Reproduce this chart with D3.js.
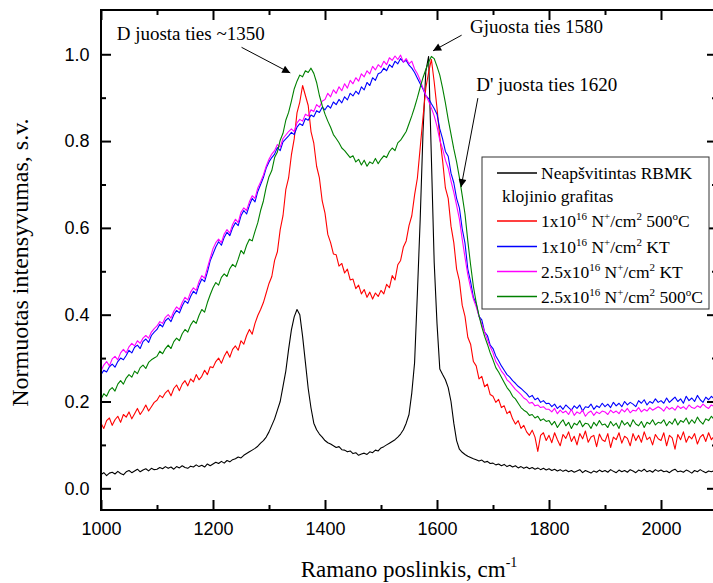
<!DOCTYPE html>
<html>
<head>
  <meta charset="utf-8">
  <title>Ramano spektrai</title>
  <script src="https://d3js.org/d3.v7.min.js"></script>
  <style>
    body { margin: 0; background: #fff; }
    .axis text { font-family: "Liberation Sans", Arial, sans-serif; font-size: 18px; fill: #000; }
    .axis line { stroke: #000; stroke-width: 2px; }
    .serif { font-family: "Liberation Serif", "Times New Roman", serif; fill: #000; white-space: pre; }
  </style>
</head>
<body>
<script>
  // Raman shift grid, cm^-1
  var shift = d3.range(1000, 2101, 5);

  var unirradiated = [
    .032, .036, .029, .035, .037, .033, .039, .034, .031, .038, .041, .036, .040, .044, .038, .042, .045, .040, .046, .043,
    .044, .048, .045, .050, .046, .049, .044, .050, .047, .052, .048, .046, .051, .049, .054, .050, .053, .049, .056, .052,
    .056, .060, .057, .062, .058, .064, .061, .066, .068, .072, .070, .076, .080, .084, .088, .092, .097, .104, .110, .118,
    .130, .145, .160, .180, .200, .235, .270, .320, .365, .395, .412, .400, .350, .290, .230, .185, .150, .135, .125, .118,
    .110, .105, .102, .098, .094, .096, .089, .088, .084, .086, .080, .082, .076, .079, .081, .078, .084, .082, .088, .086,
    .093, .096, .100, .104, .108, .112, .118, .125, .135, .150, .170, .220, .290, .450, .620, .820, .960, .995, .760, .520,
    .380, .275, .262, .250, .232, .200, .150, .110, .090, .083, .078, .074, .071, .068, .066, .063, .065, .060, .062, .057,
    .058, .054, .056, .052, .055, .050, .053, .049, .052, .047, .050, .046, .049, .045, .048, .044, .047, .043, .046, .042,
    .045, .041, .044, .040, .043, .039, .042, .038, .041, .037, .040, .043, .036, .041, .038, .035, .040, .037, .042, .038,
    .041, .037, .043, .039, .036, .042, .038, .041, .037, .043, .040, .036, .042, .039, .044, .038, .041, .037, .043, .039,
    .042, .038, .040, .036, .041, .044, .038, .040, .037, .042, .039, .035, .041, .038, .043, .039, .036, .040, .038, .041,
    .039
  ];

  var dose1hot = [
    .150, .138, .156, .162, .145, .158, .166, .152, .170, .164, .176, .160, .172, .184, .170, .180, .192, .178, .188, .198,
    .203, .214, .209, .220, .226, .213, .230, .238, .225, .240, .248, .236, .252, .245, .262, .250, .258, .272, .262, .280,
    .278, .292, .300, .288, .304, .316, .302, .320, .328, .318, .340, .332, .352, .366, .355, .380, .398, .412, .428, .450,
    .472, .488, .525, .545, .596, .628, .688, .715, .768, .805, .865, .890, .928, .905, .882, .822, .795, .742, .715, .662,
    .634, .585, .566, .540, .538, .512, .518, .496, .505, .480, .482, .460, .468, .448, .458, .440, .452, .436, .450, .442,
    .456, .448, .470, .462, .490, .480, .515, .525, .556, .570, .605, .628, .676, .715, .785, .855, .922, .958, .988, .936,
    .876, .808, .755, .692, .668, .604, .566, .505, .478, .422, .396, .348, .332, .292, .282, .252, .258, .234, .240, .216,
    .212, .198, .205, .186, .190, .172, .178, .160, .148, .156, .138, .145, .130, .122, .134, .118, .085, .122, .128, .110,
    .122, .105, .128, .112, .098, .124, .115, .130, .108, .120, .100, .126, .114, .132, .106, .118, .122, .096, .125, .112,
    .108, .126, .094, .118, .112, .128, .104, .120, .115, .098, .126, .110, .122, .106, .130, .112, .118, .100, .124, .114,
    .110, .128, .098, .122, .116, .090, .124, .112, .130, .106, .120, .114, .126, .102, .118, .124, .108, .128, .112, .120,
    .116
  ];

  var dose1room = [
    .262, .272, .268, .280, .286, .279, .292, .300, .296, .306, .318, .312, .325, .330, .322, .338, .344, .336, .352, .360,
    .366, .378, .372, .386, .392, .384, .400, .410, .404, .420, .432, .426, .442, .454, .448, .468, .482, .476, .498, .524,
    .540, .556, .568, .560, .578, .590, .582, .600, .612, .605, .628, .640, .632, .652, .668, .660, .684, .700, .716, .738,
    .752, .762, .770, .785, .778, .798, .805, .812, .820, .815, .832, .840, .836, .852, .848, .860, .856, .870, .866, .878,
    .872, .882, .876, .890, .884, .896, .888, .902, .895, .910, .904, .915, .908, .925, .918, .935, .928, .946, .940, .955,
    .958, .968, .962, .976, .970, .984, .978, .990, .982, .986, .975, .968, .958, .945, .932, .920, .905, .898, .886, .875,
    .862, .828, .805, .776, .765, .726, .704, .668, .646, .598, .565, .505, .476, .440, .425, .396, .388, .360, .352, .330,
    .322, .305, .294, .282, .272, .262, .256, .248, .242, .235, .230, .224, .218, .210, .214, .204, .208, .198, .202, .195,
    .196, .188, .194, .184, .190, .182, .192, .186, .180, .190, .184, .192, .178, .188, .186, .194, .182, .190, .186, .196,
    .188, .194, .186, .198, .190, .196, .188, .200, .192, .198, .194, .188, .202, .196, .204, .192, .200, .196, .206, .198,
    .202, .196, .208, .198, .204, .210, .200, .206, .196, .212, .202, .208, .200, .214, .204, .198, .210, .204, .212, .206,
    .208
  ];

  var dose25room = [
    .270, .284, .292, .282, .298, .304, .296, .312, .320, .312, .326, .334, .328, .340, .334, .346, .352, .346, .360, .368,
    .374, .384, .380, .394, .400, .392, .408, .418, .412, .428, .440, .434, .452, .462, .456, .476, .490, .484, .508, .530,
    .552, .566, .574, .566, .586, .596, .588, .608, .620, .612, .636, .646, .640, .660, .674, .668, .692, .706, .722, .742,
    .758, .770, .778, .792, .786, .806, .814, .822, .828, .822, .842, .850, .846, .862, .858, .872, .868, .884, .878, .892,
    .896, .910, .902, .918, .910, .925, .916, .932, .922, .940, .932, .946, .938, .955, .948, .962, .955, .972, .964, .976,
    .970, .984, .976, .992, .986, .996, .988, .998, .982, .990, .978, .984, .966, .955, .940, .922, .906, .892, .876, .858,
    .834, .802, .782, .756, .738, .708, .682, .652, .620, .574, .532, .492, .462, .436, .418, .396, .378, .360, .342, .326,
    .312, .292, .282, .270, .262, .250, .244, .236, .228, .222, .216, .208, .204, .196, .198, .190, .192, .186, .188, .182,
    .182, .176, .184, .172, .180, .174, .178, .170, .182, .168, .176, .172, .180, .166, .174, .178, .168, .176, .172, .178,
    .176, .170, .180, .174, .178, .172, .182, .176, .184, .174, .180, .178, .186, .176, .182, .178, .186, .180, .184, .188,
    .184, .178, .188, .182, .186, .180, .190, .184, .188, .182, .192, .186, .184, .190, .186, .194, .188, .184, .192, .188,
    .190
  ];

  var dose25hot = [
    .205, .218, .212, .226, .232, .224, .240, .248, .240, .254, .262, .256, .270, .264, .278, .284, .276, .290, .296, .300,
    .304, .316, .310, .322, .330, .322, .338, .346, .340, .356, .366, .360, .376, .386, .380, .398, .412, .406, .428, .446,
    .462, .474, .468, .486, .494, .488, .506, .516, .510, .528, .548, .540, .560, .574, .570, .592, .612, .640, .662, .694,
    .718, .732, .762, .775, .802, .818, .848, .866, .892, .920, .938, .952, .948, .962, .958, .968, .956, .935, .905, .882,
    .862, .846, .832, .815, .806, .796, .784, .778, .770, .762, .766, .752, .758, .745, .756, .742, .752, .748, .760, .748,
    .758, .766, .762, .776, .784, .778, .796, .802, .812, .822, .840, .858, .878, .900, .924, .946, .965, .982, .995, .990,
    .972, .952, .922, .888, .850, .816, .782, .752, .716, .675, .632, .570, .515, .465, .428, .398, .372, .350, .332, .312,
    .296, .278, .268, .256, .244, .232, .224, .212, .206, .196, .186, .180, .176, .168, .170, .162, .166, .156, .160, .154,
    .156, .146, .154, .140, .150, .158, .144, .152, .138, .150, .146, .156, .142, .150, .148, .138, .152, .144, .156, .146,
    .148, .140, .154, .144, .150, .138, .156, .146, .152, .142, .158, .148, .144, .154, .140, .152, .148, .158, .146, .152,
    .150, .158, .144, .154, .148, .160, .146, .156, .152, .162, .148, .158, .150, .164, .154, .148, .160, .156, .166, .158,
    .160
  ];

  var seriesNames = [
    "Neapšvitintas RBMK",
    "1x10^{16} N^{+}/cm^{2} 500^{o}C",
    "1x10^{16} N^{+}/cm^{2} KT",
    "2.5x10^{16} N^{+}/cm^{2} KT",
    "2.5x10^{16} N^{+}/cm^{2} 500^{o}C"
  ];
  var colors = ["#000000", "#ff0000", "#0000ff", "#ff00ff", "#008000"];
  var xTicks = [1000, 1200, 1400, 1600, 1800, 2000];
  var yTicks = [0, 0.2, 0.4, 0.6, 0.8, 1.0];

  var series = [unirradiated, dose1hot, dose1room, dose25room, dose25hot];

  var width = 713, height = 583;
  var margin = { top: 10, left: 101, bottom: 73, right: -4 };
  var plotW = width - margin.left - margin.right,
      plotH = height - margin.top - margin.bottom;

  var svg = d3.select("body").append("svg")
    .attr("width", width)
    .attr("height", height);

  var x = d3.scaleLinear().domain([1000, 2100]).range([margin.left, margin.left + plotW]);
  var y = d3.scaleLinear().domain([-0.05, 1.102]).range([margin.top + plotH, margin.top]);

  svg.append("defs").append("clipPath").attr("id", "plot")
    .append("rect")
    .attr("x", margin.left).attr("y", margin.top)
    .attr("width", plotW).attr("height", plotH);

  var line = d3.line()
    .x(function(d) { return x(d[0]); })
    .y(function(d) { return y(d[1]); });

  svg.append("g")
    .attr("clip-path", "url(#plot)")
    .selectAll("path")
    .data(series)
    .enter()
    .append("path")
    .attr("d", function(d) { return line(d3.zip(shift, d)); })
    .attr("fill", "none")
    .attr("stroke", function(d, i) { return colors[i]; })
    .attr("stroke-width", 1.1)
    .attr("stroke-linejoin", "round");

  // axes: inward ticks on all four sides
  function axisGroup(axis, tx, ty) {
    var g = svg.append("g")
      .attr("class", "axis")
      .attr("transform", "translate(" + tx + "," + ty + ")")
      .call(axis);
    g.select(".domain").remove();
    return g;
  }
  var xMinorVals = d3.range(1100, 2101, 200);
  var yMinorVals = [0.1, 0.3, 0.5, 0.7, 0.9];

  axisGroup(d3.axisBottom(x).tickValues(xTicks).tickSize(-10).tickPadding(12).tickFormat(d3.format("d")), 0, y.range()[0]);
  axisGroup(d3.axisBottom(x).tickValues(xMinorVals).tickSize(-5).tickFormat(""), 0, y.range()[0]);
  axisGroup(d3.axisTop(x).tickValues(xTicks).tickSize(-10).tickFormat(""), 0, y.range()[1]);
  axisGroup(d3.axisTop(x).tickValues(xMinorVals).tickSize(-5).tickFormat(""), 0, y.range()[1]);
  axisGroup(d3.axisLeft(y).tickValues(yTicks).tickSize(-10).tickPadding(11.5).tickFormat(d3.format(".1f")), x.range()[0], 0);
  axisGroup(d3.axisLeft(y).tickValues(yMinorVals).tickSize(-5).tickFormat(""), x.range()[0], 0);
  axisGroup(d3.axisRight(y).tickValues(yTicks).tickSize(-10).tickFormat(""), x.range()[1], 0);
  axisGroup(d3.axisRight(y).tickValues(yMinorVals).tickSize(-5).tickFormat(""), x.range()[1], 0);

  svg.append("rect")
    .attr("x", margin.left).attr("y", margin.top)
    .attr("width", plotW).attr("height", plotH)
    .attr("fill", "none")
    .attr("stroke", "#000")
    .attr("stroke-width", 2);

  // text with ^{...} superscripts
  function rich(sel, str, supSize, lift) {
    var parts = str.split(/\^\{([^}]*)\}/);
    var up = false;
    parts.forEach(function(p, i) {
      if (p === "") return;
      var t = sel.append("tspan").text(p);
      if (i % 2 === 1) {
        t.style("font-size", supSize + "px");
        if (!up) { t.attr("dy", -lift); up = true; }
      } else if (up) {
        t.attr("dy", lift); up = false;
      }
    });
  }

  // axis titles
  var xt = svg.append("text")
    .attr("class", "serif")
    .attr("x", 409)
    .attr("y", 577)
    .attr("text-anchor", "middle")
    .style("font-size", "23px");
  rich(xt, "Ramano poslinkis, cm^{-1}", 14, 10);

  svg.append("text")
    .attr("class", "serif")
    .attr("transform", "translate(28," + y(0.52) + ") rotate(-90)")
    .attr("text-anchor", "middle")
    .style("font-size", "24px")
    .text("Normuotas intensyvumas, s.v.");

  // annotations
  svg.select("defs").append("marker")
    .attr("id", "head")
    .attr("viewBox", "0 0 10 10")
    .attr("refX", 10).attr("refY", 5)
    .attr("markerWidth", 13).attr("markerHeight", 8)
    .attr("markerUnits", "userSpaceOnUse")
    .attr("orient", "auto")
    .append("path")
    .attr("d", "M0,0L10,5L0,10z")
    .attr("fill", "#000");

  var notes = [
    { text: "D juosta ties ~1350", tx: 1028, ty: 1.033, from: [1251, 1.016], to: [1338, 0.957] },
    { text: "Gjuosta ties 1580", tx: 1659, ty: 1.049, from: [1644, 1.044], to: [1593, 1.008] },
    { text: "D' juosta ties 1620", tx: 1670, ty: 0.916, from: [1673, 0.899], to: [1643, 0.694] }
  ];
  notes.forEach(function(n) {
    svg.append("text")
      .attr("class", "serif")
      .attr("x", x(n.tx)).attr("y", y(n.ty))
      .style("font-size", "19px")
      .text(n.text);
    svg.append("line")
      .attr("x1", x(n.from[0])).attr("y1", y(n.from[1]))
      .attr("x2", x(n.to[0])).attr("y2", y(n.to[1]))
      .attr("stroke", "#000")
      .attr("stroke-width", 1)
      .attr("marker-end", "url(#head)");
  });

  // legend
  var legend = svg.append("g");
  legend.append("rect")
    .attr("x", 482).attr("y", 157)
    .attr("width", 227).attr("height", 152)
    .attr("fill", "#fff")
    .attr("stroke", "#333")
    .attr("stroke-width", 1);

  var rowY = [179, 227, 252.5, 277.5, 302.5];
  seriesNames.forEach(function(name, i) {
    legend.append("line")
      .attr("x1", 497).attr("x2", 537)
      .attr("y1", rowY[i] - 6).attr("y2", rowY[i] - 6)
      .attr("stroke", colors[i])
      .attr("stroke-width", 1.5);
    var t = legend.append("text")
      .attr("class", "serif")
      .attr("x", 541).attr("y", rowY[i])
      .style("font-size", "17.5px");
    rich(t, name, 11, 7);
  });
  legend.append("text")
    .attr("class", "serif")
    .attr("x", 502).attr("y", 202)
    .style("font-size", "17.5px")
    .text("klojinio grafitas");
</script>
</body>
</html>
